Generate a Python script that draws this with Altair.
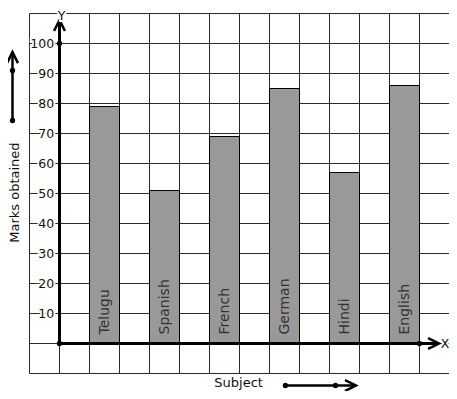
import altair as alt
import pandas as pd

# ---- data ----
subjects = ["Telugu", "Spanish", "French", "German", "Hindi", "English"]
marks = [79, 51, 69, 85, 57, 86]
y_ticks = [10, 20, 30, 40, 50, 60, 70, 80, 90, 100]
grid_x = list(range(-1, 14))
grid_y = list(range(-10, 111, 10))

FONT = "DejaVu Sans"
XD = [-1, 13]
YD = [-10, 110]

bars_df = pd.DataFrame({
    "subject": subjects,
    "marks": marks,
    "base": 0,
    "ty": 3,
    "x0": [2 * i + 1 for i in range(len(subjects))],
    "x1": [2 * i + 2 for i in range(len(subjects))],
    "xc": [2 * i + 1.5 for i in range(len(subjects))],
})

# half-pixel ranges keep the 1px grid lines crisp
xs = alt.Scale(domain=XD, nice=False, zero=False, range=[0.5, 420.5])
ys = alt.Scale(domain=YD, nice=False, zero=False, range=[360.5, 0.5])


def X(f):
    return alt.X(f, type="quantitative", scale=xs, axis=None)


def Y(f):
    return alt.Y(f, type="quantitative", scale=ys, axis=None)


GRID = "#2a2a2a"

vgrid = alt.Chart(pd.DataFrame({"g": grid_x, "a": YD[0], "b": YD[1]})).mark_rule(
    color=GRID, strokeWidth=1).encode(x=X("g"), y=Y("a"), y2="b")
hgrid = alt.Chart(pd.DataFrame({"g": grid_y, "a": XD[0], "b": XD[1]})).mark_rule(
    color=GRID, strokeWidth=1).encode(y=Y("g"), x=X("a"), x2="b")

bars = alt.Chart(bars_df).mark_bar(
    color="#999999", stroke="#000000", strokeWidth=1).encode(
    x=X("x0"), x2="x1", y=Y("base"), y2="marks")

bar_text = alt.Chart(bars_df).mark_text(
    angle=270, align="left", baseline="middle", font=FONT, fontSize=14,
    color="#333333").encode(x=X("xc"), y=Y("ty"), text="subject")

# tick labels with white halo (breaks the grid line like the reference)
tick_df = pd.DataFrame({"v": y_ticks, "t": [str(v) for v in y_ticks], "x": -0.18})
tick_halo = alt.Chart(tick_df).mark_text(
    align="right", baseline="middle", font=FONT, fontSize=12.5, color="white",
    stroke="white", strokeWidth=3.5).encode(x=X("x"), y=Y("v"), text="t")
tick_txt = alt.Chart(tick_df).mark_text(
    align="right", baseline="middle", font=FONT, fontSize=12.5, color="#111111"
).encode(x=X("x"), y=Y("v"), text="t")

# axis lines
axis_df = pd.DataFrame({"x": [0, 0], "y": [0, 0], "x2": [0, 12.6], "y2": [107.3, 0]})
axes = alt.Chart(axis_df).mark_rule(color="black", strokeWidth=3).encode(
    x=X("x"), y=Y("y"), x2="x2", y2="y2")

# guide arrows (left and bottom)
guide_df = pd.DataFrame({"x": [-1.567, 7.53], "y": [74.33, -14.0],
                         "x2": [-1.567, 9.85], "y2": [96.5, -14.0]})
guides = alt.Chart(guide_df).mark_rule(color="black", strokeWidth=2.5).encode(
    x=X("x"), y=Y("y"), x2="x2", y2="y2")

dots_df = pd.DataFrame({"x": [0, 0, 12, -1.567, -1.567, 7.53, 9.2],
                        "y": [100, 0, 0, 74.33, 91, -14.0, -14.0]})
dots = alt.Chart(dots_df).mark_point(
    filled=True, color="black", size=28, opacity=1).encode(x=X("x"), y=Y("y"))

UP = "M-1,1L0,-1L1,1"
RIGHT = "M-1,-1L1,0L-1,1"
up_df = pd.DataFrame({"x": [0, -1.567], "y": [106.0, 95.3]})
right_df = pd.DataFrame({"x": [12.47, 9.7], "y": [0, -14.0]})
up_arrows = alt.Chart(up_df).mark_point(
    shape=UP, filled=False, stroke="black", strokeWidth=2.5, size=120, opacity=1
).encode(x=X("x"), y=Y("y"))
right_arrows = alt.Chart(right_df).mark_point(
    shape=RIGHT, filled=False, stroke="black", strokeWidth=2.5, size=120, opacity=1
).encode(x=X("x"), y=Y("y"))


def axis_name(x, y, t, baseline):
    df = pd.DataFrame({"x": [x], "y": [y], "t": [t]})
    halo = alt.Chart(df).mark_text(
        align="center", baseline=baseline, font=FONT, fontSize=12.5, color="white",
        stroke="white", strokeWidth=4).encode(x=X("x"), y=Y("y"), text="t")
    txt = alt.Chart(df).mark_text(
        align="center", baseline=baseline, font=FONT, fontSize=12.5, color="#111111"
    ).encode(x=X("x"), y=Y("y"), text="t")
    return halo, txt


yname_h, yname_t = axis_name(0.07, 111.2, "Y", "top")
xname_h, xname_t = axis_name(12.85, 0, "X", "middle")

# titles
ytitle = alt.Chart(pd.DataFrame({"x": [-1.47], "y": [50.3], "t": ["Marks obtained"]})).mark_text(
    angle=270, align="center", baseline="middle", font=FONT, fontSize=13, color="#111111"
).encode(x=X("x"), y=Y("y"), text="t")
xtitle = alt.Chart(pd.DataFrame({"x": [5.97], "y": [-13.2], "t": ["Subject"]})).mark_text(
    align="center", baseline="middle", font=FONT, fontSize=13, color="#111111"
).encode(x=X("x"), y=Y("y"), text="t")

chart = alt.layer(
    vgrid, hgrid, bars, bar_text, tick_halo, tick_txt, axes, guides, dots,
    up_arrows, right_arrows, yname_h, yname_t, xname_h, xname_t, ytitle, xtitle
).properties(
    width=420, height=360,
    autosize=alt.AutoSizeParams(type="none"),
    padding={"left": 21, "top": 5, "right": 0, "bottom": 18},
).configure_view(stroke=None).configure(background="white")

chart.save("out.html", embed_options={"renderer": "svg", "actions": False})
